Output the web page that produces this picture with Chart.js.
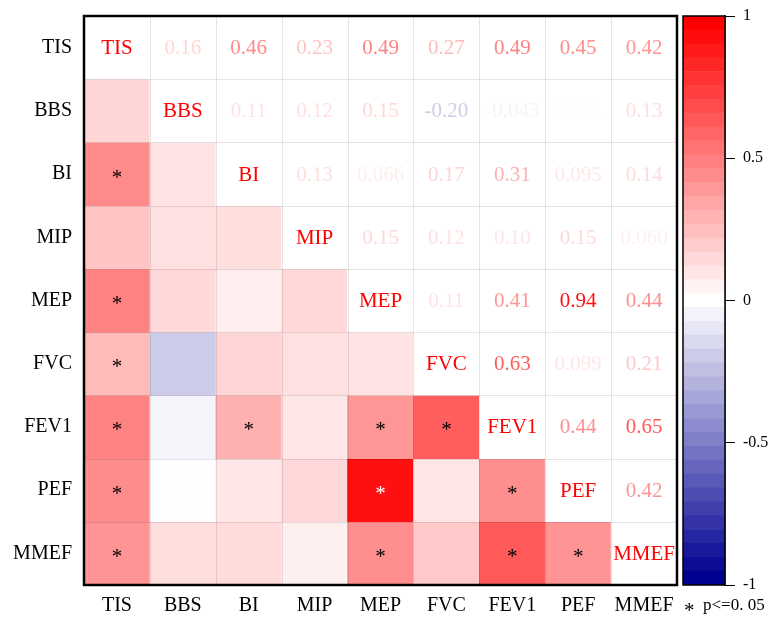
<!DOCTYPE html>
<html>
<head>
  <meta charset="UTF-8">
  <title>Correlation heatmap</title>
  <script src="https://cdn.jsdelivr.net/npm/chart.js"></script>
  <style>
    body {
      margin: 0;
      background: #ffffff;
    }
    #wrap {
      position: relative;
      width: 771px;
      height: 617px;
    }
    #heat {
      position: absolute;
      left: 0;
      top: 0;
    }
    #bar {
      position: absolute;
      left: 680px;
      top: 0;
    }
  </style>
</head>
<body>
  <div id="wrap">
    <canvas id="heat" width="680" height="617"></canvas>
    <canvas id="bar" width="91" height="617"></canvas>
  </div>

  <script>
    const variables = ["TIS", "BBS", "BI", "MIP", "MEP", "FVC", "FEV1", "PEF", "MMEF"];

    // upper triangle, row i holds corr with columns i+1 .. 8
    const corrUpper = [
      [0.16, 0.46, 0.23, 0.49, 0.27, 0.49, 0.45, 0.42],
      [0.11, 0.12, 0.15, -0.20, -0.043, 0.004, 0.13],
      [0.13, 0.066, 0.17, 0.31, 0.095, 0.14],
      [0.15, 0.12, 0.10, 0.15, 0.060],
      [0.11, 0.41, 0.94, 0.44],
      [0.63, 0.099, 0.21],
      [0.44, 0.65],
      [0.42],
      []
    ];

    // p<=0.05 marks, lower triangle: [row, col]
    const sigPairs = [
      [2, 0], [4, 0], [5, 0], [6, 0], [7, 0], [8, 0],
      [6, 2], [6, 4], [7, 4], [8, 4], [6, 5], [7, 6], [8, 6], [8, 7]
    ];

    const colorbarTicks = [-1, -0.5, 0, 0.5, 1];
    const legendText = "p<=0. 05";

    const serif = "'Liberation Serif', 'Times New Roman', serif";

    function corr(i, j) {
      if (i === j) return 1;
      const a = Math.min(i, j), b = Math.max(i, j);
      return corrUpper[a][b - a - 1];
    }

    function corrColor(v) {
      if (v >= 0) {
        const g = Math.round(255 * (1 - v));
        return `rgb(255,${g},${g})`;
      }
      const t = -v;
      const rg = Math.round(255 * (1 - t));
      const b = Math.round(255 - t * (255 - 145));
      return `rgb(${rg},${rg},${b})`;
    }

    function fmt(v) {
      return Math.abs(v) < 0.1 ? v.toFixed(3) : v.toFixed(2);
    }

    function isSig(i, j) {
      return sigPairs.some(p => p[0] === i && p[1] === j);
    }

    // one dataset per row, floating bars [i, i+1]
    const rowSets = variables.map((name, i) => ({
      label: name,
      data: variables.map(() => [i, i + 1]),
      backgroundColor: variables.map((_, j) => j < i ? corrColor(corr(i, j)) : "#ffffff"),
      borderWidth: 0,
      grouped: false,
      barPercentage: 1,
      categoryPercentage: 1
    }));

    const cellText = {
      id: "cellText",
      afterDatasetsDraw(chart) {
        const c = chart.ctx;
        const xs = chart.scales.x, ys = chart.scales.y;
        const area = chart.chartArea;
        c.save();
        // grid
        c.strokeStyle = "rgba(0,0,0,0.1)";
        c.lineWidth = 1;
        for (let k = 1; k < variables.length; k++) {
          const py = Math.round(ys.getPixelForValue(k)) + 0.5;
          c.beginPath(); c.moveTo(area.left, py); c.lineTo(area.right, py); c.stroke();
          const px = Math.round((xs.getPixelForValue(k - 1) + xs.getPixelForValue(k)) / 2) + 0.5;
          c.beginPath(); c.moveTo(px, area.top); c.lineTo(px, area.bottom); c.stroke();
        }
        c.textAlign = "center";
        c.textBaseline = "middle";
        variables.forEach((rowName, i) => {
          const cy = ys.getPixelForValue(i + 0.5);
          variables.forEach((colName, j) => {
            const cx = xs.getPixelForValue(j);
            if (i === j) {
              c.font = `21px ${serif}`;
              c.fillStyle = "#ff0000";
              c.fillText(rowName, cx, cy + 1);
            } else if (j > i) {
              const v = corr(i, j);
              c.font = `21px ${serif}`;
              c.fillStyle = corrColor(v);
              c.fillText(fmt(v), cx, cy + 1);
            } else if (isSig(i, j)) {
              c.font = `21px ${serif}`;
              c.fillStyle = Math.abs(corr(i, j)) > 0.8 ? "#ffffff" : "#000000";
              c.fillText("*", cx, cy + 4);
            }
          });
        });
        c.restore();
      },
      afterDraw(chart) {
        const c = chart.ctx, a = chart.chartArea;
        c.save();
        c.strokeStyle = "#000";
        c.lineWidth = 2.5;
        c.strokeRect(a.left, a.top, a.right - a.left, a.bottom - a.top);
        c.restore();
      }
    };

    new Chart(document.getElementById("heat").getContext("2d"), {
      type: "bar",
      data: { labels: variables, datasets: rowSets },
      options: {
        responsive: false,
        animation: false,
        layout: { padding: { top: 16, right: 3, left: 0, bottom: 0 } },
        plugins: { legend: { display: false }, tooltip: { enabled: false } },
        scales: {
          x: {
            type: "category",
            offset: true,
            grid: { display: false, drawTicks: false },
            border: { display: false },
            ticks: { color: "#000", font: { family: serif, size: 20 }, padding: 9, maxRotation: 0 },
            afterFit(s) { s.height = 32; s.paddingLeft = 0; s.paddingRight = 0; }
          },
          y: {
            type: "linear",
            min: 0,
            max: variables.length,
            reverse: true,
            afterBuildTicks(s) { s.ticks = variables.map((_, i) => ({ value: i + 0.5 })); },
            grid: { display: false, drawTicks: false },
            border: { display: false },
            ticks: {
              color: "#000",
              font: { family: serif, size: 20 },
              padding: 12,
              autoSkip: false,
              callback: v => variables[Math.floor(v)]
            },
            afterFit(s) { s.width = 84; s.paddingTop = 0; s.paddingBottom = 0; }
          }
        }
      },
      plugins: [cellText]
    });

    // colour bar
    const nBands = 41;
    const bandSets = [];
    for (let k = 0; k < nBands; k++) {
      const lo = -1 + 2 * k / nBands, hi = -1 + 2 * (k + 1) / nBands;
      bandSets.push({
        data: [[lo, hi]],
        backgroundColor: corrColor(-1 + 2 * k / (nBands - 1)),
        borderWidth: 0,
        grouped: false,
        barPercentage: 1,
        categoryPercentage: 1
      });
    }

    const barFrame = {
      id: "barFrame",
      afterDraw(chart) {
        const c = chart.ctx, a = chart.chartArea;
        c.save();
        c.strokeStyle = "#000";
        c.lineWidth = 1.5;
        c.strokeRect(a.left, a.top, a.right - a.left, a.bottom - a.top);
        c.fillStyle = "#000";
        c.textBaseline = "middle";
        c.textAlign = "left";
        c.font = `21px ${serif}`;
        c.fillText("*", 4, 611);
        c.font = `17px ${serif}`;
        c.fillText(legendText, 23, 606);
        c.restore();
      }
    };

    new Chart(document.getElementById("bar").getContext("2d"), {
      type: "bar",
      data: { labels: [""], datasets: bandSets },
      options: {
        responsive: false,
        animation: false,
        layout: { padding: { top: 16, bottom: 32, left: 3, right: 0 } },
        plugins: { legend: { display: false }, tooltip: { enabled: false } },
        scales: {
          x: { display: false },
          y: {
            position: "right",
            min: -1,
            max: 1,
            afterBuildTicks(s) { s.ticks = colorbarTicks.map(v => ({ value: v })); },
            grid: { drawOnChartArea: false, drawTicks: true, tickLength: 10, color: "#000", lineWidth: 1 },
            border: { display: true, color: "#000", width: 1.5 },
            ticks: { color: "#000", font: { family: serif, size: 16 }, padding: 8, autoSkip: false, callback: v => String(v) },
            afterFit(s) { s.width = 46; s.paddingTop = 0; s.paddingBottom = 0; }
          }
        }
      },
      plugins: [barFrame]
    });
  </script>
</body>
</html>
